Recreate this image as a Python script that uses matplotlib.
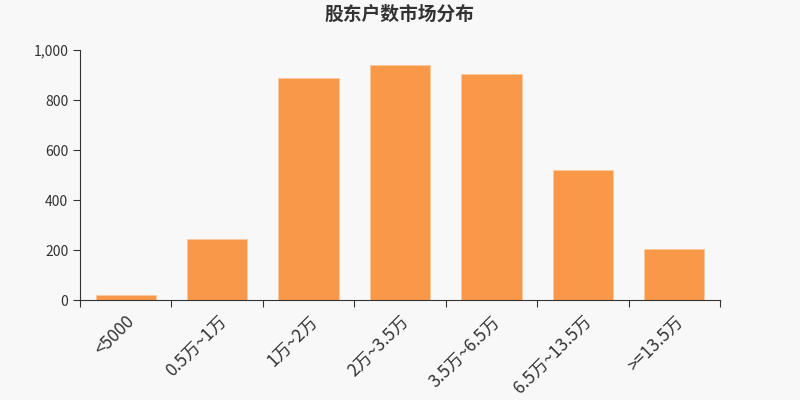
import matplotlib
matplotlib.use("Agg")
import matplotlib.pyplot as plt
from matplotlib.ticker import FuncFormatter

plt.rcParams['font.family'] = ['Noto Sans CJK SC', 'DejaVu Sans']

# data
categories = ["<5000", "0.5万~1万", "1万~2万", "2万~3.5万", "3.5万~6.5万", "6.5万~13.5万", ">=13.5万"]
holders = [20, 244, 887, 942, 906, 520, 203]

bg = "#f8f8f8"
bar_color = "#f89848"
text_color = "#333333"

fig = plt.figure(figsize=(8, 4), dpi=100, facecolor=bg)
ax = fig.add_axes([0.1, 0.25, 0.8, 0.625], facecolor=bg)

x = range(len(categories))
ax.bar(x, holders, width=0.66, color=bar_color, edgecolor="#fbc9a0", linewidth=0.6)

ax.set_xlim(-0.5, len(categories) - 0.5)
ax.set_ylim(0, 1000)
ax.set_yticks([0, 200, 400, 600, 800, 1000])
ax.yaxis.set_major_formatter(FuncFormatter(lambda v, p: f"{int(v):,}"))

# ticks sit on category boundaries, labels centered under bars
ax.set_xticks([i - 0.5 for i in range(len(categories) + 1)])
ax.set_xticklabels([])
ax.set_xticks(list(x), minor=True)
ax.set_xticklabels(categories, minor=True, rotation=45, ha="right", va="top",
                   rotation_mode="anchor", fontsize=12.5, color=text_color)
ax.tick_params(axis="x", which="minor", length=0, pad=9)
ax.tick_params(axis="x", which="major", length=5, color=text_color)
ax.tick_params(axis="y", length=5, color=text_color, labelsize=10, labelcolor=text_color)

for side in ["top", "right"]:
    ax.spines[side].set_visible(False)
for side in ["left", "bottom"]:
    ax.spines[side].set_color(text_color)

fig.text(0.5, 0.965, "股东户数市场分布", ha="center", va="center",
         fontsize=13.5, fontweight="bold", color=text_color)

fig.savefig("out.png", dpi=100, facecolor=bg)
